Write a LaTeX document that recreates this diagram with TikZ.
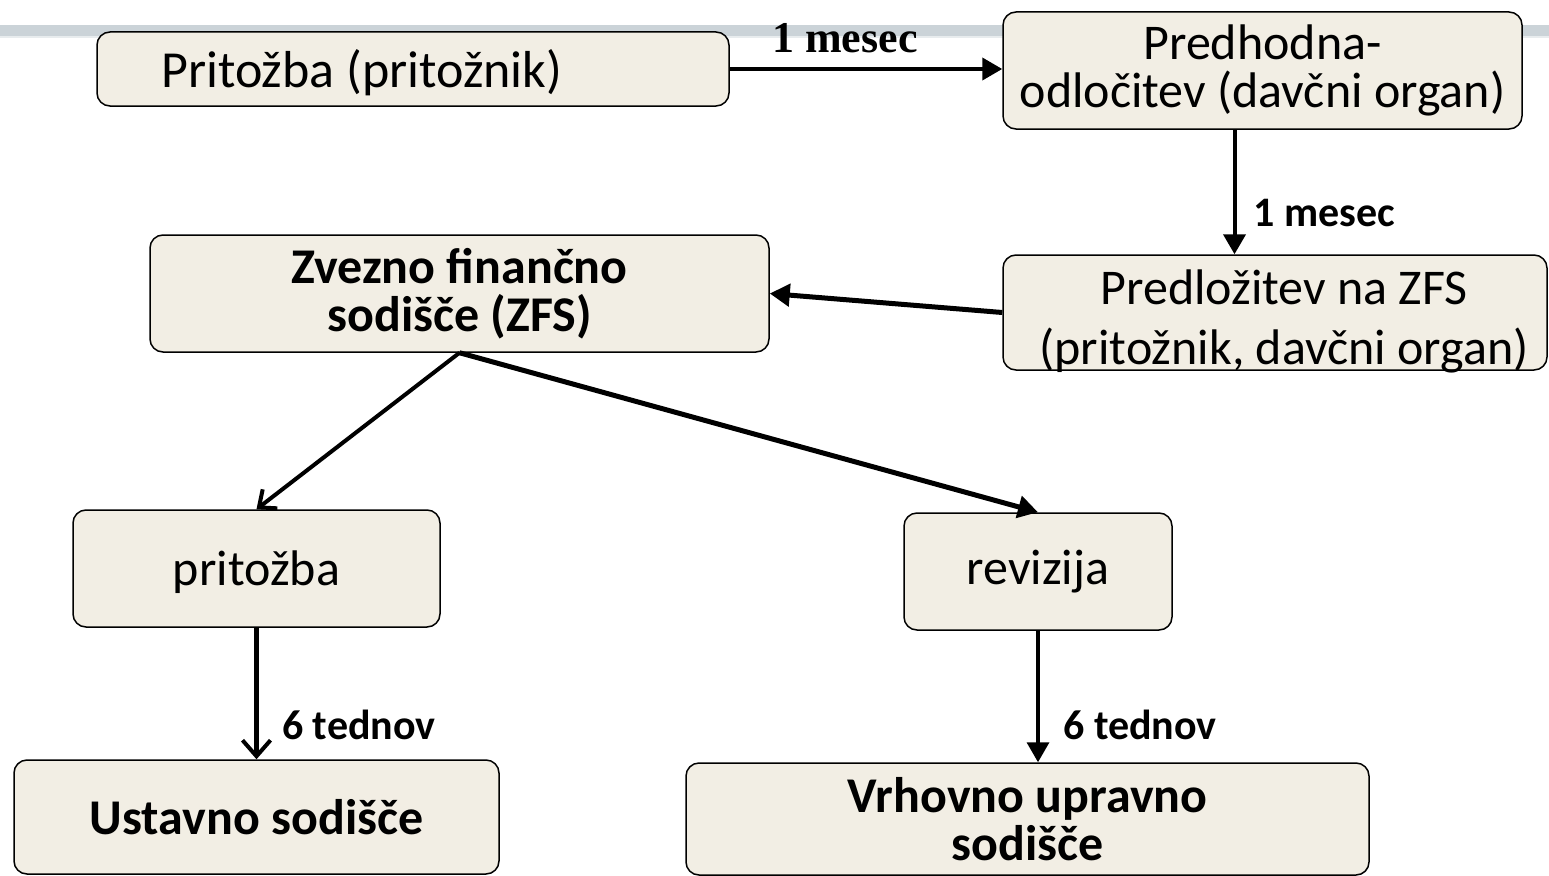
\documentclass[tikz,border=0pt]{standalone}
\usepackage{fontspec}
\setmainfont{Carlito}
\newfontfamily\timesf{Liberation Serif}
\usetikzlibrary{arrows.meta,calc}
\definecolor{boxfill}{HTML}{F2EEE4}
\definecolor{band}{HTML}{CBD3D8}
\definecolor{bandlight}{HTML}{E8ECEE}
\tikzset{
  box/.style={draw=black, line width=1.5pt, fill=boxfill, rounded corners=13pt, inner sep=0pt, align=center},
  txt/.style={font=\fontsize{50}{48}\selectfont, align=center, inner sep=0pt},
  btxt/.style={font=\fontsize{50}{48}\selectfont\bfseries, align=center, inner sep=0pt},
  lbl/.style={font=\fontsize{42}{48}\selectfont\bfseries, inner sep=0pt},
  arrT/.style={line width=4pt, -{Triangle[length=20pt,width=22pt]}},
  arrV/.style={line width=4pt, -{Straight Barb[length=16pt,width=28pt,line width=4pt]}}
}
\begin{document}
\begin{tikzpicture}[x=1pt,y=-1pt]
\useasboundingbox (0,0) rectangle (1549,875);
\clip (0,0) rectangle (1549,875);
% top band
\fill[band] (0,25) rectangle (1549,36);
\fill[bandlight] (0,36) rectangle (1549,38);
% boxes
\node[box, minimum width=632pt, minimum height=74pt] (A) at (413,69) {};
\node[txt, font=\fontsize{52}{52}\selectfont, anchor=base west] (At) at (161,87) {Pritožba (pritožnik)};
\node[box, txt, minimum width=519pt, minimum height=117pt] (B) at (1262.5,70.5) {Predhodna-\\odločitev (davčni organ)};
\node[box, minimum width=544pt, minimum height=115pt] (C) at (1275,312.5) {};
\node[txt, font=\fontsize{50}{60}\selectfont] (Ct) at (1284,321) {Predložitev na ZFS\\(pritožnik, davčni organ)};
\node[box, btxt, minimum width=619pt, minimum height=117pt] (D) at (459.5,293.5) {Zvezno finančno\\sodišče (ZFS)};
\node[box, txt, minimum width=367pt, minimum height=117pt] (E) at (256.5,568.5) {};
\node[txt, anchor=base] (Et) at (256.5,585) {pritožba};
\node[box, txt, minimum width=268pt, minimum height=117pt] (F) at (1038,571.5) {revizija};
\node[box, btxt, minimum width=485pt, minimum height=114pt] (G) at (256.5,817) {Ustavno sodišče};
\node[box, btxt, minimum width=683pt, minimum height=112pt] (H) at (1027.5,819) {Vrhovno upravno\\sodišče};
% connectors
\draw[arrT] (A.east) -- (A.east -| B.west);
\node[font=\fontsize{44}{48}\selectfont\timesf\bfseries, inner sep=0pt] (l1) at (845,38) {1 mesec};
\draw[arrT] ([xshift=-28pt]B.south) -- ([xshift=-28pt]B.south |- C.north);
\node[lbl, anchor=west] (l2) at (1253,213) {1 mesec};
\draw[arrT, line width=5pt] (C.west) -- (D.east);
\draw[line width=4pt, -{Straight Barb[length=14pt,width=24pt,line width=4pt]}] (D.south) -- (E.north);
\draw[arrT, line width=5pt] (D.south) -- (F.north);
\draw[arrV, line width=5pt] (E.south) -- (G.north);
\node[lbl, anchor=west] (l3) at (282,725) {6 tednov};
\draw[arrT, line width=3.5pt] (F.south) -- (F.south |- H.north);
\node[lbl, anchor=west] (l4) at (1063,725) {6 tednov};
\end{tikzpicture}
\end{document}
